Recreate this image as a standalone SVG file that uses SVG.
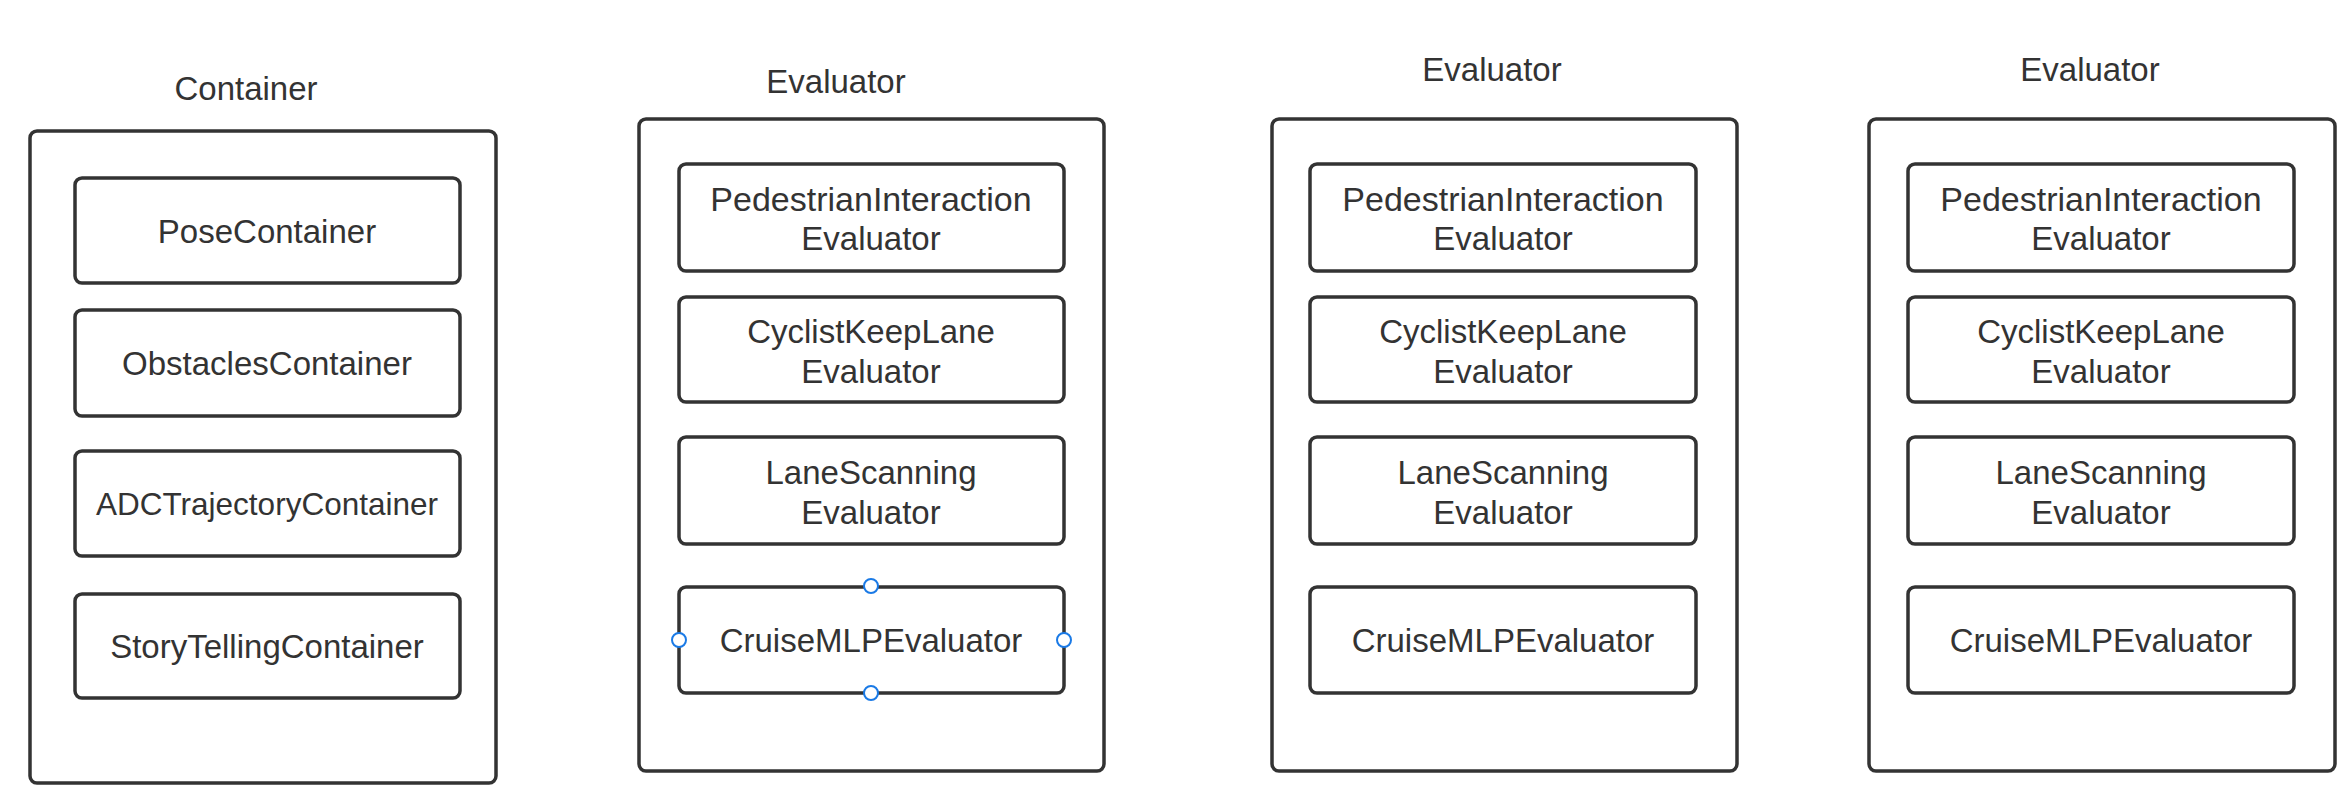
<svg xmlns="http://www.w3.org/2000/svg" width="2352" height="810" viewBox="0 0 2352 810">
<style>
  .frame { fill: #ffffff; stroke: #333333; stroke-width: 3.5; }
  .box { fill: #ffffff; stroke: #333333; stroke-width: 3.5; }
  .t { font-family: "Liberation Sans", Arial, sans-serif; font-size: 33px; fill: #333333; text-anchor: middle; }
  .handle { fill: #ffffff; stroke: #1a7ae6; stroke-width: 2; }
</style>
<rect x="0" y="0" width="2352" height="810" fill="#ffffff"/>

<g id="container-group">
  <text class="t" x="246" y="100">Container</text>
  <rect class="frame" x="30" y="131" width="466" height="652" rx="7"/>
  <g id="pose-container">
    <rect class="box" x="75" y="178" width="385" height="105" rx="7"/>
    <text class="t" x="267" y="243">PoseContainer</text>
  </g>
  <g id="obstacles-container">
    <rect class="box" x="75" y="310" width="385" height="106" rx="7"/>
    <text class="t" x="267" y="375">ObstaclesContainer</text>
  </g>
  <g id="adc-trajectory-container">
    <rect class="box" x="75" y="451" width="385" height="105" rx="7"/>
    <text class="t" x="267" y="515" style="font-size:31.5px">ADCTrajectoryContainer</text>
  </g>
  <g id="story-telling-container">
    <rect class="box" x="75" y="594" width="385" height="104" rx="7"/>
    <text class="t" x="267" y="658">StoryTellingContainer</text>
  </g>
</g>

<g id="evaluator-group-1">
  <text class="t" x="836" y="93">Evaluator</text>
  <rect class="frame" x="639" y="119" width="465" height="652" rx="7"/>
  <g id="e1-pedestrian">
    <rect class="box" x="679" y="164" width="385" height="107" rx="7"/>
    <text class="t" x="871" y="211" style="font-size:34px">PedestrianInteraction</text>
    <text class="t" x="871" y="250">Evaluator</text>
  </g>
  <g id="e1-cyclist">
    <rect class="box" x="679" y="297" width="385" height="105" rx="7"/>
    <text class="t" x="871" y="343">CyclistKeepLane</text>
    <text class="t" x="871" y="383">Evaluator</text>
  </g>
  <g id="e1-lanescanning">
    <rect class="box" x="679" y="437" width="385" height="107" rx="7"/>
    <text class="t" x="871" y="484">LaneScanning</text>
    <text class="t" x="871" y="524">Evaluator</text>
  </g>
  <g id="e1-cruise">
    <rect class="box" x="679" y="587" width="385" height="106" rx="7"/>
    <text class="t" x="871" y="652">CruiseMLPEvaluator</text>
    <circle class="handle" cx="871" cy="586" r="7"/>
    <circle class="handle" cx="871" cy="693" r="7"/>
    <circle class="handle" cx="679" cy="640" r="7"/>
    <circle class="handle" cx="1064" cy="640" r="7"/>
  </g>
</g>

<g id="evaluator-group-2">
  <text class="t" x="1492" y="81">Evaluator</text>
  <rect class="frame" x="1272" y="119" width="465" height="652" rx="7"/>
  <g id="e2-pedestrian">
    <rect class="box" x="1310" y="164" width="386" height="107" rx="7"/>
    <text class="t" x="1503" y="211" style="font-size:34px">PedestrianInteraction</text>
    <text class="t" x="1503" y="250">Evaluator</text>
  </g>
  <g id="e2-cyclist">
    <rect class="box" x="1310" y="297" width="386" height="105" rx="7"/>
    <text class="t" x="1503" y="343">CyclistKeepLane</text>
    <text class="t" x="1503" y="383">Evaluator</text>
  </g>
  <g id="e2-lanescanning">
    <rect class="box" x="1310" y="437" width="386" height="107" rx="7"/>
    <text class="t" x="1503" y="484">LaneScanning</text>
    <text class="t" x="1503" y="524">Evaluator</text>
  </g>
  <g id="e2-cruise">
    <rect class="box" x="1310" y="587" width="386" height="106" rx="7"/>
    <text class="t" x="1503" y="652">CruiseMLPEvaluator</text>
  </g>
</g>

<g id="evaluator-group-3">
  <text class="t" x="2090" y="81">Evaluator</text>
  <rect class="frame" x="1869" y="119" width="466" height="652" rx="7"/>
  <g id="e3-pedestrian">
    <rect class="box" x="1908" y="164" width="386" height="107" rx="7"/>
    <text class="t" x="2101" y="211" style="font-size:34px">PedestrianInteraction</text>
    <text class="t" x="2101" y="250">Evaluator</text>
  </g>
  <g id="e3-cyclist">
    <rect class="box" x="1908" y="297" width="386" height="105" rx="7"/>
    <text class="t" x="2101" y="343">CyclistKeepLane</text>
    <text class="t" x="2101" y="383">Evaluator</text>
  </g>
  <g id="e3-lanescanning">
    <rect class="box" x="1908" y="437" width="386" height="107" rx="7"/>
    <text class="t" x="2101" y="484">LaneScanning</text>
    <text class="t" x="2101" y="524">Evaluator</text>
  </g>
  <g id="e3-cruise">
    <rect class="box" x="1908" y="587" width="386" height="106" rx="7"/>
    <text class="t" x="2101" y="652">CruiseMLPEvaluator</text>
  </g>
</g>

<g id="connectors"></g>
</svg>
